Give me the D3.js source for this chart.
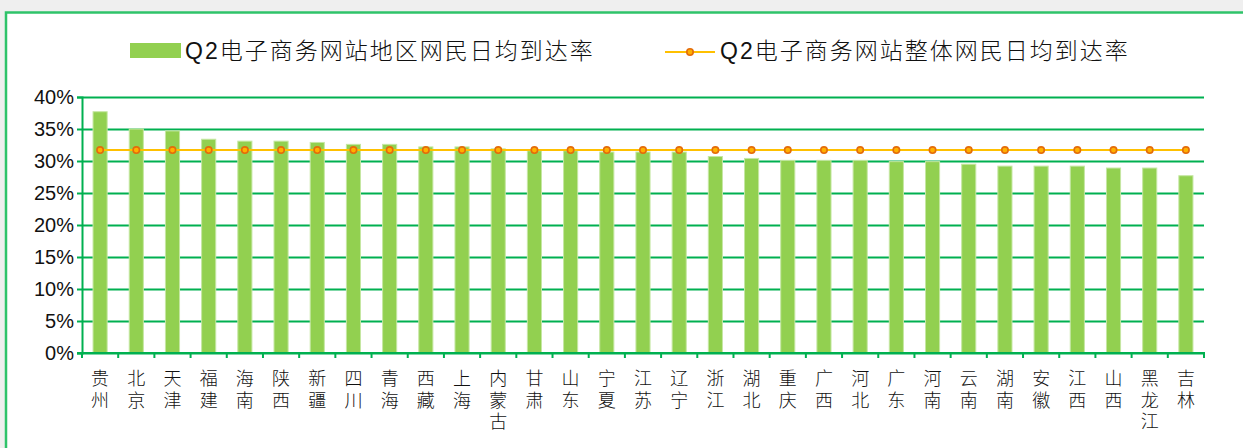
<!DOCTYPE html>
<html><head><meta charset="utf-8">
<script src="https://cdn.jsdelivr.net/npm/d3@7/dist/d3.min.js"></script>
<style>
html,body{margin:0;padding:0;background:#efefef;}
svg{display:block;}
</style></head>
<body>
<svg id="chart" width="1243" height="448"></svg>
<script>
const categories = ["贵州","北京","天津","福建","海南","陕西","新疆","四川","青海","西藏","上海","内蒙古","甘肃","山东","宁夏","江苏","辽宁","浙江","湖北","重庆","广西","河北","广东","河南","云南","湖南","安徽","江西","山西","黑龙江","吉林"];
const regionValues = [37.7,35.0,34.7,33.4,33.1,33.1,32.9,32.6,32.6,32.2,32.2,31.9,31.6,31.6,31.4,31.4,31.4,30.7,30.4,30.1,30.1,30.1,29.9,29.9,29.5,29.2,29.2,29.2,28.9,28.9,27.7];
const overallValues = [31.7,31.7,31.7,31.7,31.7,31.7,31.7,31.7,31.7,31.7,31.7,31.7,31.7,31.7,31.7,31.7,31.7,31.7,31.7,31.7,31.7,31.7,31.7,31.7,31.7,31.7,31.7,31.7,31.7,31.7,31.7];
const yTicks = [0,5,10,15,20,25,30,35,40];
const seriesNames = ["Q2电子商务网站地区网民日均到达率","Q2电子商务网站整体网民日均到达率"];

const svg = d3.select("#chart");
const GREEN = "#00B050";

// chart area with border
svg.append("rect").attr("x",6).attr("y",12.5).attr("width",1300).attr("height",500)
  .attr("fill","#fff").attr("stroke","#2FC36A").attr("stroke-width",2.5);

const x = d3.scaleBand().domain(categories).range([82,1204]).paddingInner(0.61).paddingOuter(0.305);
const y = d3.scaleLinear().domain([0,40]).range([353,97]);

// gridlines
const grid = svg.append("g").attr("transform","translate(82,0)")
  .call(d3.axisLeft(y).tickValues(yTicks).tickSize(-(1204-82)).tickFormat(""));
grid.select(".domain").remove();
grid.selectAll("line").attr("stroke",GREEN).attr("stroke-width",2);

// y axis
const ya = svg.append("g").attr("transform","translate(82,0)")
  .call(d3.axisLeft(y).tickValues(yTicks).tickSize(5).tickPadding(3).tickFormat(d=>d+"%"));
ya.select(".domain").attr("stroke",GREEN).attr("stroke-width",2);
ya.selectAll("line").attr("stroke",GREEN).attr("stroke-width",2);
ya.selectAll("text").attr("fill","#111").style("font-family","'Liberation Sans', Arial, sans-serif").style("font-size","20px");

// bars
svg.append("g").selectAll("rect").data(categories).join("rect")
  .attr("x",(d)=>x(d)).attr("width",x.bandwidth())
  .attr("y",(d,i)=>y(regionValues[i])).attr("height",(d,i)=>y(0)-y(regionValues[i]))
  .attr("fill","#92D050").attr("stroke","#C5E7A3").attr("stroke-width",1);

// x axis line & ticks
const step = x.step();
const bounds = categories.map(c=>x(c)-step*x.paddingInner()/2).concat([x(categories[categories.length-1])+x.bandwidth()+step*x.paddingInner()/2]);
svg.append("line").attr("x1",77).attr("x2",1205).attr("y1",y(0)).attr("y2",y(0)).attr("stroke",GREEN).attr("stroke-width",2);
svg.append("g").selectAll("line").data(bounds).join("line")
  .attr("x1",d=>d).attr("x2",d=>d).attr("y1",y(0)).attr("y2",y(0)+5)
  .attr("stroke",GREEN).attr("stroke-width",2);

// x labels vertical (one text per character)
const xl = svg.append("g").style("font-family","'Liberation Sans','Noto Sans CJK SC', sans-serif").style("font-size","18px").style("font-weight","300").attr("fill","#111");
categories.forEach(c=>{
  Array.from(c).forEach((ch,k)=>{
    xl.append("text").attr("text-anchor","middle")
      .attr("x",x(c)+x.bandwidth()/2).attr("y",385+k*21.7).text(ch);
  });
});

// line series
const line = d3.line().x((d,i)=>x(categories[i])+x.bandwidth()/2).y(d=>y(d));
svg.append("path").datum(overallValues).attr("d",line).attr("fill","none").attr("stroke","#FFC000").attr("stroke-width",2);
svg.append("g").selectAll("circle").data(overallValues).join("circle")
  .attr("cx",(d,i)=>x(categories[i])+x.bandwidth()/2).attr("cy",d=>y(d)).attr("r",3.2)
  .attr("fill","#FFB000").attr("stroke","#E46C0A").attr("stroke-width",1.6);

// legend
const lg = svg.append("g").style("font-family","'Liberation Sans','Noto Sans CJK SC', sans-serif").style("font-size","23px").style("font-weight","300").style("letter-spacing","2px").attr("fill","#111");
lg.append("rect").attr("x",130).attr("y",43).attr("width",51).attr("height",15).attr("fill","#92D050");
lg.append("text").attr("x",185).attr("y",59).text(seriesNames[0]);
lg.append("line").attr("x1",665).attr("x2",715).attr("y1",52).attr("y2",52).attr("stroke","#FFC000").attr("stroke-width",2);
lg.append("circle").attr("cx",690).attr("cy",52).attr("r",3.2).attr("fill","#FFB000").attr("stroke","#E46C0A").attr("stroke-width",1.6);
lg.append("text").attr("x",720).attr("y",59).text(seriesNames[1]);
</script>
</body></html>
